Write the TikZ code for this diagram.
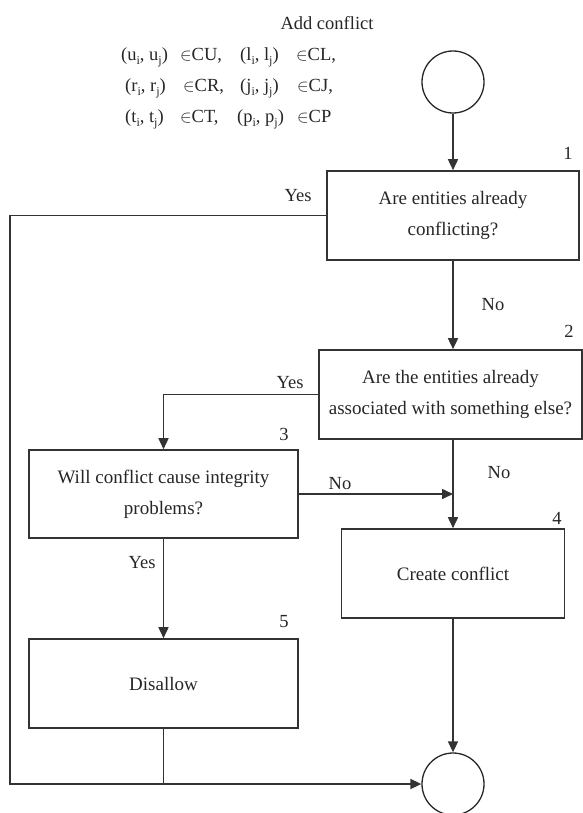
\documentclass[tikz,border=0pt]{standalone}
\usepackage{fontspec}
\setmainfont{Liberation Serif}
\usetikzlibrary{arrows.meta}
\newcommand\lowsub[1]{\raisebox{-0.55ex}{\fontsize{12}{12}\selectfont #1}}
\begin{document}
\begin{tikzpicture}[x=1pt,y=-1pt,
  box/.style={draw=black!80, line width=1.6pt, rectangle, align=center, inner sep=0pt,
    font=\fontsize{19}{31}\selectfont, text=black!85},
  lbl/.style={font=\fontsize{18.5}{22}\selectfont, text=black!85, inner sep=0pt},
  conn/.style={draw=black!80, line width=1.6pt},
  arr/.style={conn, -{Triangle[length=11pt,width=10pt]}},
  term/.style={circle, draw=black!85, line width=1.3pt, minimum size=62pt, inner sep=0pt}]
\useasboundingbox (0,0) rectangle (583,813);

% header text
\node[lbl] (title) at (327,23) {Add conflict};
\node[lbl, anchor=mid west] (m11) at (121,58) {(u\lowsub{i}, u\lowsub{j})};
\node[lbl, anchor=mid west] (m12) at (180,58) {$\in$CU,};
\node[lbl, anchor=mid west] (m13) at (240,58) {(l\lowsub{i}, l\lowsub{j})};
\node[lbl, anchor=mid west] (m14) at (296,58) {$\in$CL,};
\node[lbl, anchor=mid west] (m21) at (125,89) {(r\lowsub{i}, r\lowsub{j})};
\node[lbl, anchor=mid west] (m22) at (183,89) {$\in$CR,};
\node[lbl, anchor=mid west] (m23) at (240,89) {(j\lowsub{i}, j\lowsub{j})};
\node[lbl, anchor=mid west] (m24) at (297,89) {$\in$CJ,};
\node[lbl, anchor=mid west] (m31) at (125,120) {(t\lowsub{i}, t\lowsub{j})};
\node[lbl, anchor=mid west] (m32) at (180,120) {$\in$CT,};
\node[lbl, anchor=mid west] (m33) at (237,120) {(p\lowsub{i}, p\lowsub{j})};
\node[lbl, anchor=mid west] (m34) at (297,120) {$\in$CP};

% terminals
\node[term] (s) at (453,82) {};
\node[term] (e) at (453,784) {};

% boxes
\node[box, minimum width=252pt, minimum height=89pt] (b1) at (453,215.5) {Are entities already\\conflicting?};
\node[box, minimum width=263pt, minimum height=89pt] (b2) at (450.5,394.5) {Are the entities already\\associated with something else?};
\node[box, minimum width=269pt, minimum height=88pt] (b3) at (163.5,494) {Will conflict cause integrity\\problems?};
\node[box, minimum width=223pt, minimum height=89pt] (b4) at (453,573.5) {Create conflict};
\node[box, minimum width=269pt, minimum height=89pt] (b5) at (163.5,683.5) {Disallow};

% numbers
\node[lbl] (n1) at (568,153) {1};
\node[lbl] (n2) at (569,331) {2};
\node[lbl] (n3) at (284,434) {3};
\node[lbl] (n4) at (557,518) {4};
\node[lbl] (n5) at (284,622) {5};

% branch labels
\node[lbl] (y1) at (298,196) {Yes};
\node[lbl] (no1) at (493,305) {No};
\node[lbl] (y2) at (290,383) {Yes};
\node[lbl] (no3) at (340,484) {No};
\node[lbl] (no2) at (499,473) {No};
\node[lbl] (y3) at (142,563) {Yes};

\coordinate (lft) at (10,0);

% connectors
\draw[arr] (s.south) -- (b1.north);
\draw[arr] (b1.south) -- (b1.south |- b2.north);
\draw[arr] (b2.west) -| (b3.north);
\draw[arr] (b4.north |- b2.south) -- (b4.north);
\draw[arr] (b3.east) -- (b3.east -| b4.north);
\draw[arr] (b3.south) -- (b5.north);
\draw[arr] (b4.south) -- (e.north);
\draw[arr] (b1.west) -- (b1.west -| lft) -- (lft |- e.west) -- (e.west);
\draw[conn] (b5.south) -- (b5.south |- e.west);
\end{tikzpicture}
\end{document}
